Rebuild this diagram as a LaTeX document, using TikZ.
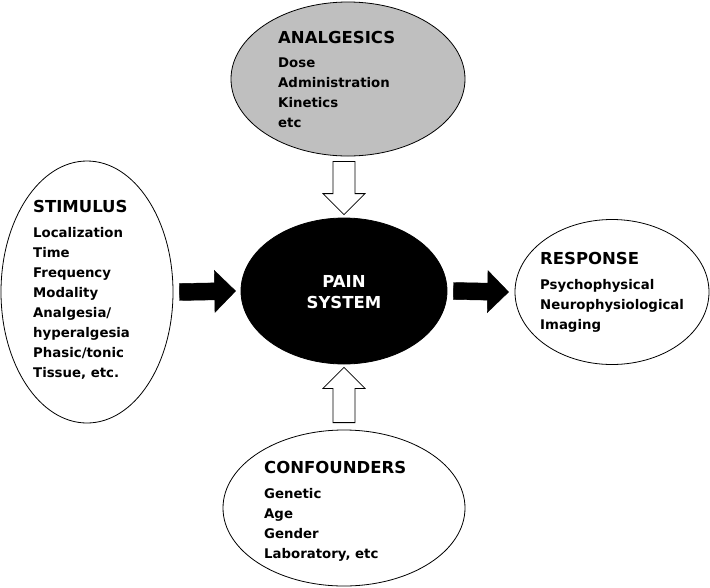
\documentclass[tikz,border=0pt]{standalone}
\usepackage{fontspec}
\setmainfont{DejaVu Sans}
\usetikzlibrary{shapes.geometric,calc}

\tikzset{
  blob/.style={draw, ellipse, line width=0.8pt, inner sep=0pt},
  head/.style={anchor=base west, inner sep=0pt, font=\fontsize{16.5}{18}\selectfont\bfseries},
  item/.style={anchor=base west, inner sep=0pt, font=\fontsize{13.3}{16}\selectfont\bfseries},
  openarrow/.style={draw, fill=white, line width=0.8pt},
  blackarrow/.style={fill=black},
}

% block arrow: style, half width of the shaft, from, to
\newcommand{\blockarrow}[4]{%
  \coordinate (ba-a) at (#3);
  \coordinate (ba-b) at (#4);
  \coordinate (ba-c) at ($(ba-b)!21pt!(ba-a)$);
  \draw[#1] ($(ba-a)!#2!90:(ba-b)$) -- ($(ba-c)!#2!90:(ba-b)$)
    -- ($(ba-c)!21pt!90:(ba-b)$) -- (ba-b) -- ($(ba-c)!21pt!-90:(ba-b)$)
    -- ($(ba-c)!#2!-90:(ba-b)$) -- ($(ba-a)!#2!-90:(ba-b)$) -- cycle;
}

\begin{document}
\begin{tikzpicture}[x=1pt, y=-1pt]
\useasboundingbox (0,0) rectangle (710,587);

% ellipses
\node[blob, fill=black!25, minimum width=234pt, minimum height=154pt] (ana) at (348,79) {};
\node[blob, minimum width=172pt, minimum height=262pt] (stim) at (87,292) {};
\node[blob, fill=black, minimum width=206pt, minimum height=146pt] (pain) at (344,291) {};
\node[blob, minimum width=194pt, minimum height=145pt] (resp) at (612,292) {};
\node[blob, minimum width=242pt, minimum height=156pt] (conf) at (344,508) {};

% texts
\node[head] (ana-h) at (278,43) {ANALGESICS};
\foreach \t [count=\i] in {Dose, Administration, Kinetics, etc}
  \node[item] (ana-\i) at (278,47+20*\i) {\t};

\node[head] (stim-h) at (33,212) {STIMULUS};
\foreach \t [count=\i] in {Localization, Time, Frequency, Modality, Analgesia/,
    hyperalgesia, Phasic/tonic, {Tissue, etc.}}
  \node[item] (stim-\i) at (33,217+20*\i) {\t};

\node[head] (resp-h) at (540,264) {RESPONSE};
\foreach \t [count=\i] in {Psychophysical, Neurophysiological, Imaging}
  \node[item] (resp-\i) at (540,269+20*\i) {\t};

\node[head] (conf-h) at (264,473) {CONFOUNDERS};
\foreach \t [count=\i] in {Genetic, Age, Gender, {Laboratory, etc}}
  \node[item] (conf-\i) at (264,478+20*\i) {\t};

\foreach \t [count=\i] in {PAIN, SYSTEM}
  \node[head, anchor=base, text=white] (pain-\i) at (344,266+21*\i) {\t};

% arrows
\blockarrow{openarrow}{11pt}{$(pain.north |- ana.south)+(0,5)$}{$(pain.north)+(0,-3)$}
\blockarrow{openarrow}{11pt}{$(pain.south |- conf.north)+(0,-7)$}{$(pain.south)+(0,3)$}
\blockarrow{blackarrow}{8.5pt}{$(stim.east)+(6,0)$}{$(pain.west)+(-5,0)$}
\blockarrow{blackarrow}{8.5pt}{$(pain.east)+(6,0)$}{$(resp.west)+(-6,0)$}

\end{tikzpicture}
\end{document}
